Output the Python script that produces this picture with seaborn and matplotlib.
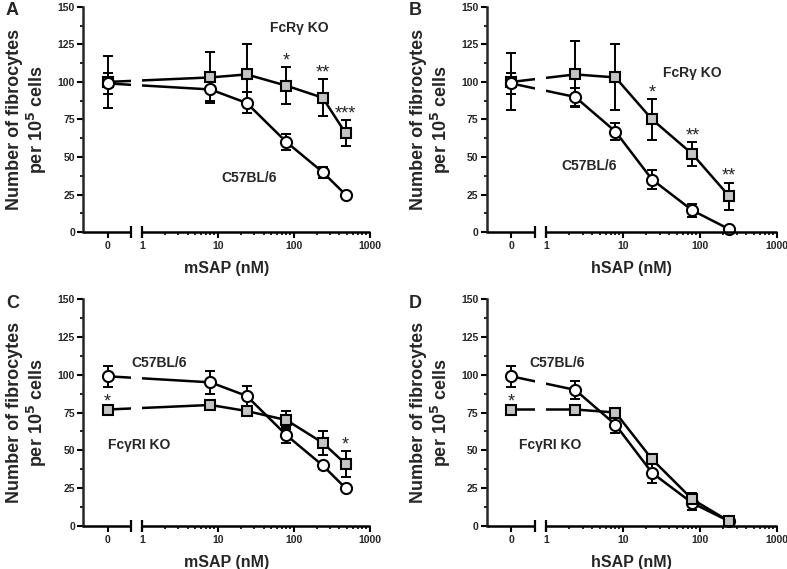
import numpy as np
import pandas as pd
import matplotlib
matplotlib.use("Agg")
import matplotlib.pyplot as plt
import seaborn as sns

sns.set_theme(style="ticks")
plt.rcParams['font.family'] = ['Liberation Sans', 'DejaVu Sans']
plt.rcParams['font.weight'] = 'bold'
plt.rcParams['mathtext.default'] = 'bf'

# --- data ---
conc_m = [0, 8, 24, 80, 240, 480]
conc_h = [0, 2.4, 8, 24, 80, 240]

a_wt = [99, 95, 86, 60, 40, 25]
a_wt_err = [7, 8, 7, 5.5, 3.7, 1]
a_ko = [100, 103, 105, 97.5, 89.5, 66]
a_ko_err = [17.5, 17, 20.5, 12.5, 12.5, 8.5]

b_wt = [99, 90, 67, 35, 14.5, 2]
b_wt_err = [7, 6, 5.5, 6.5, 4.2, 0.5]
b_ko = [100, 105, 103, 75, 52, 24]
b_ko_err = [19, 22, 22, 13.5, 8, 9]

c_wt = [99, 95, 86, 60, 40, 25]
c_wt_err = [7, 7.5, 6.5, 5.5, 2.5, 0.5]
c_ko = [77, 80, 76, 70, 55, 41]
c_ko_err = [1, 1.5, 2, 6, 8, 8.5]

d_wt = [99, 90, 67, 35, 15, 3]
d_wt_err = [7, 6, 5.5, 6.5, 4.5, 0.5]
d_ko = [77, 77, 75, 44, 17.5, 3]
d_ko_err = [1, 1, 1.5, 2, 4.5, 0.5]

# significance marks: (concentration, text)
a_stars = [(80, '*'), (240, '**'), (480, '***')]
b_stars = [(24, '*'), (80, '**'), (240, '**')]
c_stars = [(0, '*'), (480, '*')]
d_stars = [(0, '*')]

# broken axis: 0 sits on its own short segment left of the log part
K = 0.45


def fwd(x):
    x = np.asarray(x, dtype=float)
    return np.where(x >= 1, np.log10(np.maximum(x, 1)), (x - 1) * K)


def inv(p):
    p = np.asarray(p, dtype=float)
    return np.where(p >= 0, 10 ** np.maximum(p, 0), 1 + p / K)


X_LEFT = 1 - 0.77 / K
X_BRK = 1 - 0.14 / K


def draw_panel(ax, conc, wt, wt_err, ko, ko_err, stars, xlabel, letter,
               ko_label, ko_pos, wt_pos, ko_first):
    ax.set_xscale('function', functions=(fwd, inv))
    ax.set_xlim(X_LEFT, 1000)
    ax.set_ylim(0, 150)

    df_wt = pd.DataFrame({'conc': conc, 'fib': wt})
    df_ko = pd.DataFrame({'conc': conc, 'fib': ko})

    ax.errorbar(conc, wt, yerr=wt_err, fmt='none', ecolor='black',
                elinewidth=1.4, capsize=3.6, capthick=1.4, zorder=2, clip_on=False)
    ax.errorbar(conc, ko, yerr=ko_err, fmt='none', ecolor='black',
                elinewidth=1.4, capsize=3.6, capthick=1.4, zorder=2, clip_on=False)

    z_wt, z_ko = (3, 4) if ko_first else (4, 3)
    sns.lineplot(data=df_wt, x='conc', y='fib', ax=ax, color='black', lw=1.8,
                 marker='o', markersize=8, markerfacecolor='white',
                 markeredgecolor='black', markeredgewidth=1.5, zorder=z_wt,
                 clip_on=False)
    sns.lineplot(data=df_ko, x='conc', y='fib', ax=ax, color='black', lw=1.8,
                 marker='s', markersize=7.5, markerfacecolor='#c4c4c4',
                 markeredgecolor='black', markeredgewidth=1.5, zorder=z_ko,
                 clip_on=False)

    # white gap where the axis is broken
    ax.axvspan(X_BRK, 1, color='white', zorder=5, lw=0)

    # hand-drawn x axis segments with end caps
    ax.spines['bottom'].set_visible(False)
    ax.spines['top'].set_visible(False)
    ax.spines['right'].set_visible(False)
    ax.spines['left'].set_linewidth(1.8)
    for seg in ([X_LEFT, X_BRK], [1, 1000]):
        ax.plot(seg, [0, 0], color='black', lw=1.8, clip_on=False, zorder=6,
                solid_capstyle='butt')
    ax.plot([X_BRK, 1], [0, 0], ls='none', marker='|', ms=8, mew=1.6,
            color='black', clip_on=False, zorder=6)

    ax.set_xticks([0, 1, 10, 100, 1000])
    ax.set_xticklabels(['0', '1', '10', '100', '1000'])
    minor = [m * d for d in (1, 10, 100) for m in range(2, 10)]
    ax.set_xticks(minor, minor=True)
    ax.set_yticks(np.arange(0, 151, 25))
    ax.set_yticks(np.arange(12.5, 150, 25), minor=True)
    ax.tick_params(axis='both', which='major', direction='out', length=4,
                   width=1.5, labelsize=7.5, pad=2, color='black')
    ax.tick_params(axis='both', which='minor', direction='out', length=2.5,
                   width=1.2, color='black')
    ax.tick_params(axis='x', which='major', pad=2.5)
    for lab in ax.get_xticklabels() + ax.get_yticklabels():
        lab.set_fontweight('bold')

    ax.set_xlabel(xlabel, fontsize=11.5, fontweight='bold', labelpad=7)
    ax.set_ylabel('Number of fibrocytes\nper 10$^5$ cells', fontsize=13,
                  fontweight='bold', labelpad=6, linespacing=1.1)
    ax.grid(False)

    for c, s in stars:
        i = conc.index(c)
        ax.text(c, ko[i] + ko_err[i] - 1.5, s, ha='center', va='bottom',
                fontsize=13, fontweight='normal', zorder=8)

    ax.text(ko_pos[0], ko_pos[1], ko_label, ha='center', va='center',
            fontsize=10, fontweight='bold', zorder=8)
    ax.text(wt_pos[0], wt_pos[1], 'C57BL/6', ha='center', va='center',
            fontsize=10, fontweight='bold', zorder=8)
    ax.text(-0.27, 1.02, letter, transform=ax.transAxes, fontsize=13,
            fontweight='bold', va='top', ha='left')


fig = plt.figure(figsize=(7.87, 5.69), dpi=100)
ax_a = fig.add_axes([0.1058, 0.592, 0.364, 0.396])
ax_b = fig.add_axes([0.6184, 0.592, 0.3686, 0.396])
ax_c = fig.add_axes([0.1058, 0.076, 0.364, 0.398])
ax_d = fig.add_axes([0.6184, 0.076, 0.3686, 0.398])

draw_panel(ax_a, conc_m, a_wt, a_wt_err, a_ko, a_ko_err, a_stars, 'mSAP (nM)', 'A',
           'FcR\u03b3 KO', (120, 136), (26, 36), False)
draw_panel(ax_b, conc_h, b_wt, b_wt_err, b_ko, b_ko_err, b_stars, 'hSAP (nM)', 'B',
           'FcR\u03b3 KO', (80, 106), (3.6, 44), False)
draw_panel(ax_c, conc_m, c_wt, c_wt_err, c_ko, c_ko_err, c_stars, 'mSAP (nM)', 'C',
           'Fc\u03b3RI KO', (0.92, 53.5), (1.7, 107.5), True)
draw_panel(ax_d, conc_h, d_wt, d_wt_err, d_ko, d_ko_err, d_stars, 'hSAP (nM)', 'D',
           'Fc\u03b3RI KO', (1.12, 53.5), (1.4, 107.5), True)

fig.savefig('out.png', dpi=100, facecolor='white')
